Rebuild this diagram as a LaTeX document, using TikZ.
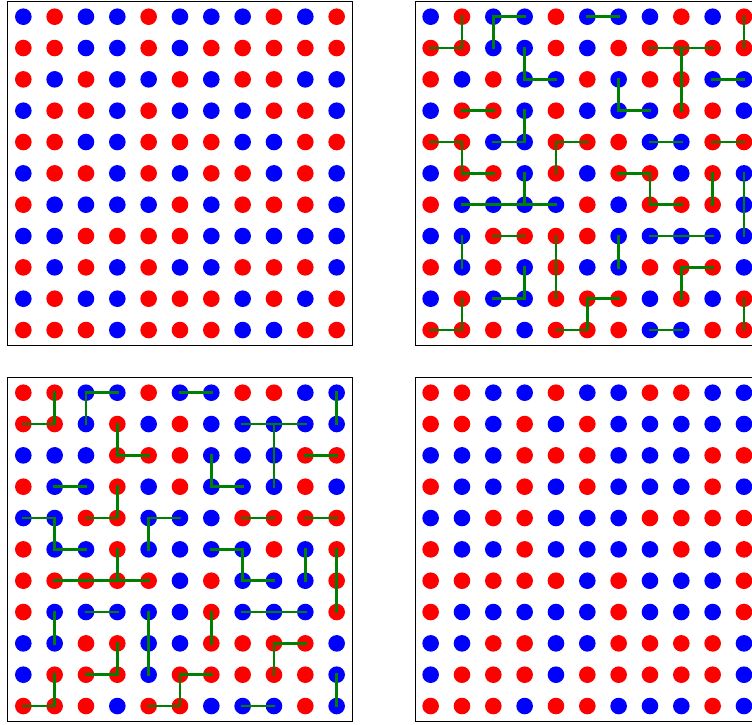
\documentclass[tikz,border=0pt]{standalone}
\usepackage{tikz}
\usepackage{xcolor}
\definecolor{spinR}{HTML}{FF0000}
\definecolor{spinB}{HTML}{0000FF}
\definecolor{bond}{HTML}{008000}

% spins before and after the cluster flip (rows top to bottom)
\newcommand{\spinsold}{{B,R,B,B,R,B,B,B,R,B,R},{R,R,B,B,R,B,R,R,R,R,R},{R,B,R,B,B,R,B,R,R,B,B},{B,R,R,B,R,B,B,B,R,R,B},{R,R,B,B,R,R,R,B,B,R,R},{B,R,R,B,R,B,R,R,B,R,B},{R,B,B,B,B,R,B,R,R,R,B},{B,B,R,R,R,R,B,B,B,B,B},{R,B,R,B,R,B,B,R,R,R,B},{B,R,B,B,R,R,R,B,R,B,R},{R,R,R,B,R,R,R,B,B,R,R}}
\newcommand{\spinsnew}{{R,R,B,B,R,B,B,R,R,B,B},{R,R,B,R,B,R,B,B,B,B,B},{B,B,B,R,R,R,B,B,B,R,R},{R,B,B,R,B,R,B,B,B,R,B},{B,B,R,R,B,B,B,R,R,R,R},{R,B,B,R,B,B,B,B,R,B,R},{R,R,R,R,R,B,R,B,B,B,R},{R,B,B,B,B,B,R,B,B,B,R},{B,B,R,R,B,B,R,R,R,R,B},{B,R,R,R,B,R,R,R,R,R,B},{R,R,R,B,R,R,B,B,B,R,B}}
% bonds: row/col to the right neighbour, row/col to the one below
\newcommand{\hbonds}{0/2,0/5,1/0,1/7,1/8,2/3,2/9,3/1,3/6,4/0,4/2,4/4,4/7,4/9,5/1,5/6,6/1,6/2,6/3,6/7,7/2,7/7,7/8,8/8,9/2,9/5,10/0,10/4,10/7}
\newcommand{\vbonds}{0/1,0/2,0/10,1/3,1/8,2/6,2/8,3/3,4/1,4/4,5/3,5/7,5/9,5/10,6/10,7/1,7/4,7/6,8/3,8/4,8/8,9/1,9/5,9/10}

\newcommand{\spinpanel}[4]{%
  \draw[frame] (#2+0.244,#3+0.033) rectangle ++(11,11);
  \foreach \row [count=\r from 0] in #4
    \foreach \col [count=\c from 0] in \row
      \node[site,fill=spin\col] (s#1-\r-\c) at (#2+0.744+\c,#3+0.533+\r) {};
}

\begin{document}
\begin{tikzpicture}[x=31.33pt,y=-31.33pt,
  site/.style={circle,inner sep=0pt,minimum size=16.6pt},
  frame/.style={draw=black,line width=0.8pt},
  bondline/.style={draw=bond,line width=2.8pt,line cap=rect}]
  \useasboundingbox (0,0) rectangle (24,23.11);
  \clip (0,0) rectangle (24,23.11);
  \spinpanel{1}{0}{0}{\spinsold}
  \spinpanel{2}{13}{0}{\spinsold}
  \spinpanel{3}{0}{12}{\spinsnew}
  \spinpanel{4}{13}{12}{\spinsnew}
  \foreach \p in {2,3}{
    \foreach \r/\c [evaluate=\c as \cc using int(\c+1)] in \hbonds
      \draw[bondline] (s\p-\r-\c.center) -- (s\p-\r-\cc.center);
    \foreach \r/\c [evaluate=\r as \rr using int(\r+1)] in \vbonds
      \draw[bondline] (s\p-\r-\c.center) -- (s\p-\rr-\c.center);
  }
\end{tikzpicture}
\end{document}
